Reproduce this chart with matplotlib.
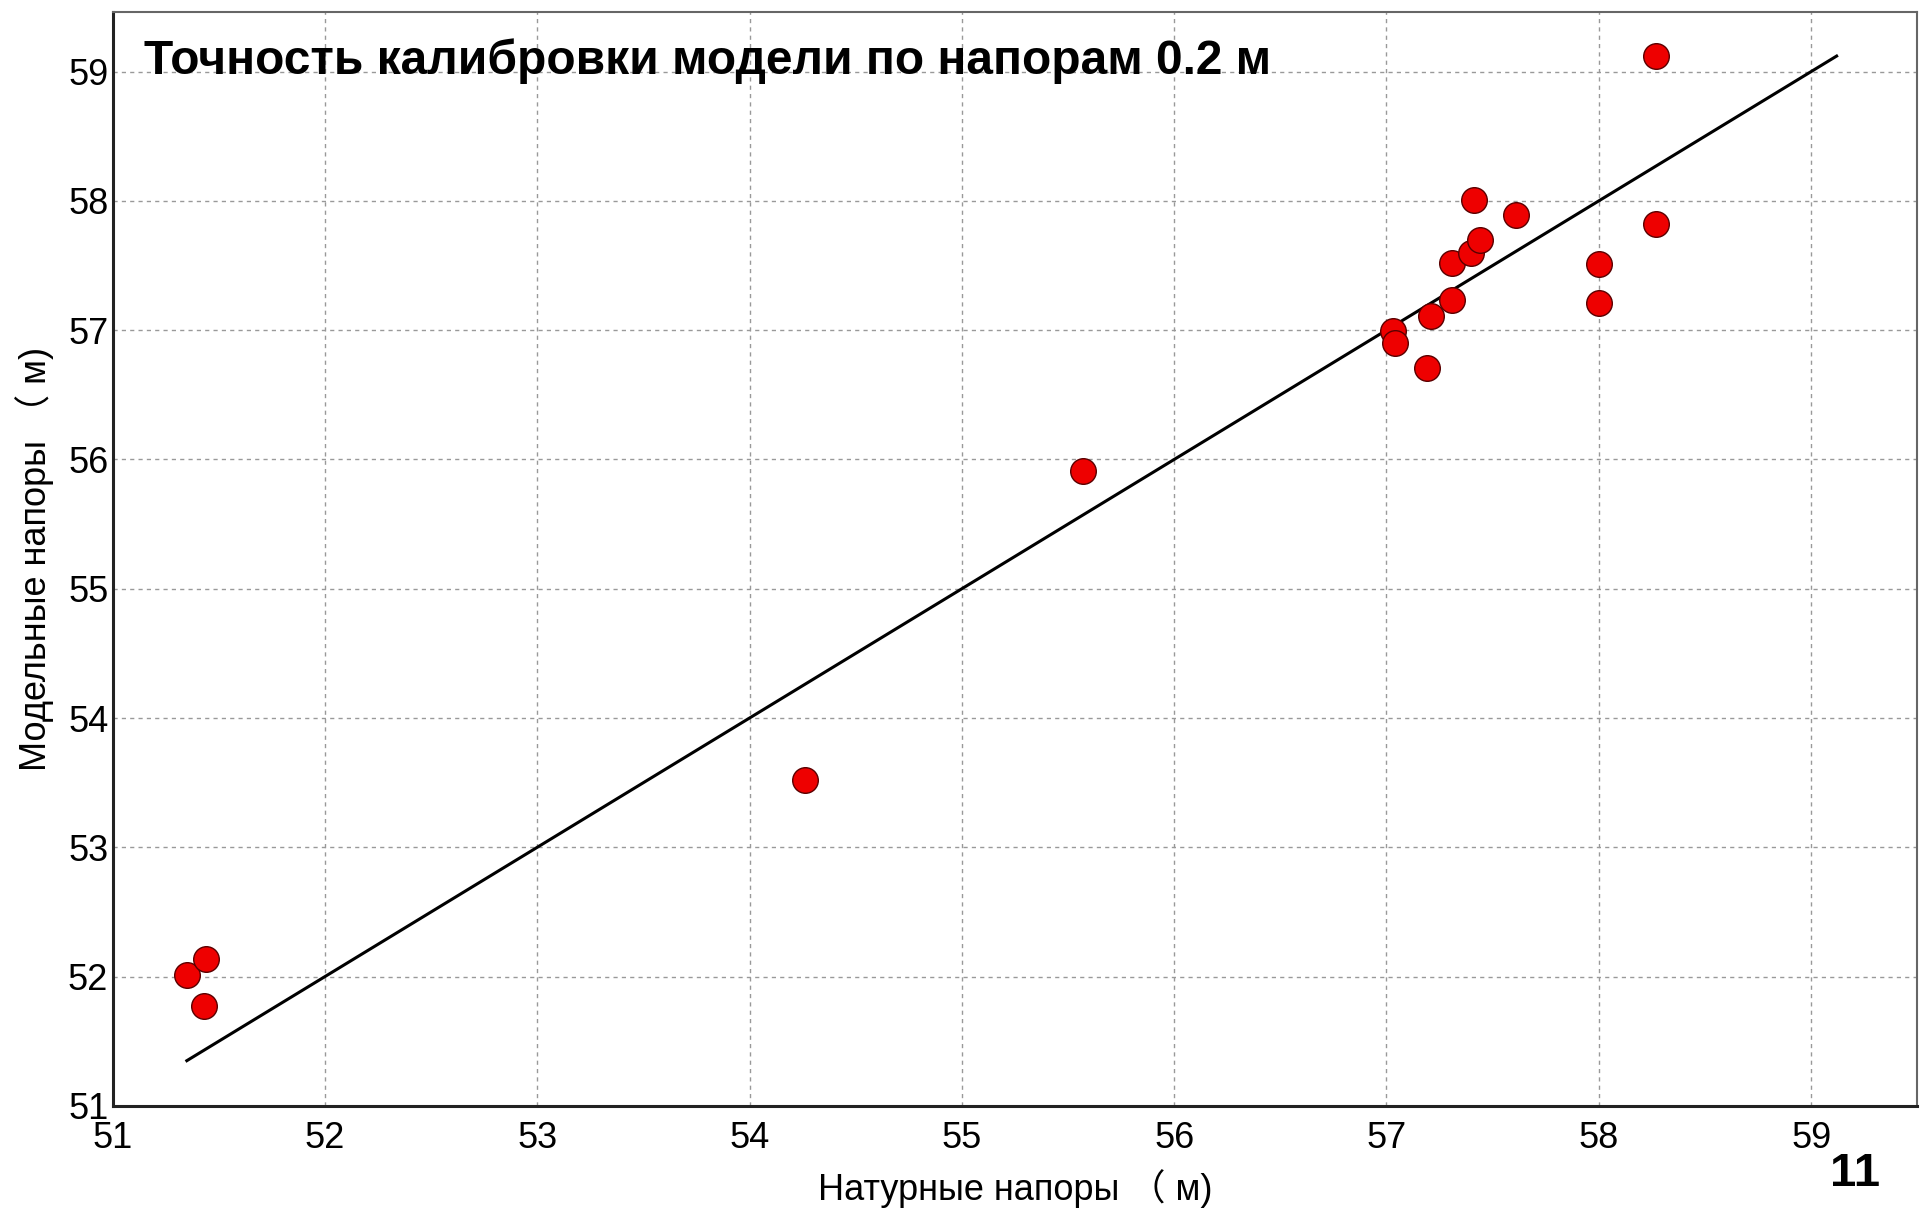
import matplotlib
matplotlib.use("Agg")
import matplotlib.pyplot as plt

plt.rcParams['font.family'] = ['Liberation Sans', 'Noto Sans CJK SC', 'DejaVu Sans']

# observed (natural) heads and model heads, m
observed = [51.35, 51.44, 51.43, 54.26, 55.57, 57.03, 57.04, 57.19, 57.21, 57.31,
            57.31, 57.40, 57.44, 57.41, 57.61, 58.00, 58.00, 58.27, 58.27]
modeled = [52.01, 52.14, 51.77, 53.52, 55.91, 56.99, 56.90, 56.71, 57.11, 57.23,
           57.52, 57.60, 57.70, 58.01, 57.89, 57.51, 57.21, 57.82, 59.12]

ticks = [51, 52, 53, 54, 55, 56, 57, 58, 59]
title = 'Точность калибровки модели по напорам 0.2 м'
xlabel = 'Натурные напоры （ м)'
ylabel = 'Модельные напоры （ м)'
page = '11'

fig = plt.figure(figsize=(19.2, 12.1), dpi=100)
ax = fig.add_axes([0.0586, 0.086, 0.94, 0.904])

# 1:1 line from the smallest to the largest head
lo = min(min(observed), min(modeled))
hi = max(max(observed), max(modeled))
ax.plot([lo, hi], [lo, hi], color='black', lw=2.2, zorder=2)

ax.scatter(observed, modeled, s=340, color='#ee0000', edgecolors='#5a0000',
           linewidths=1.0, zorder=3)

ax.set_xlim(51, 59.5)
ax.set_ylim(51, 59.46)
ax.set_xticks(ticks)
ax.set_yticks(ticks)
ax.grid(True, color='#999999', linestyle=(0, (3, 3)), lw=1.0)
ax.tick_params(length=0, labelsize=26)
ax.tick_params(axis='x', pad=11)
ax.tick_params(axis='y', pad=3)

for s in ['left', 'bottom']:
    ax.spines[s].set_linewidth(2.2)
    ax.spines[s].set_color('#222222')
for s in ['top', 'right']:
    ax.spines[s].set_linewidth(1.5)
    ax.spines[s].set_color('#666666')

ax.text(0.0175, 0.955, title, transform=ax.transAxes, fontsize=34.5,
        fontweight='bold', va='center', ha='left', zorder=5)

ax.set_xlabel(xlabel, fontsize=26, labelpad=9)
ax.set_ylabel(ylabel, fontsize=26, labelpad=10)

fig.text(0.966, 0.030, page, fontsize=34, fontweight='bold', ha='center', va='center')

fig.savefig('out.png', dpi=100)
